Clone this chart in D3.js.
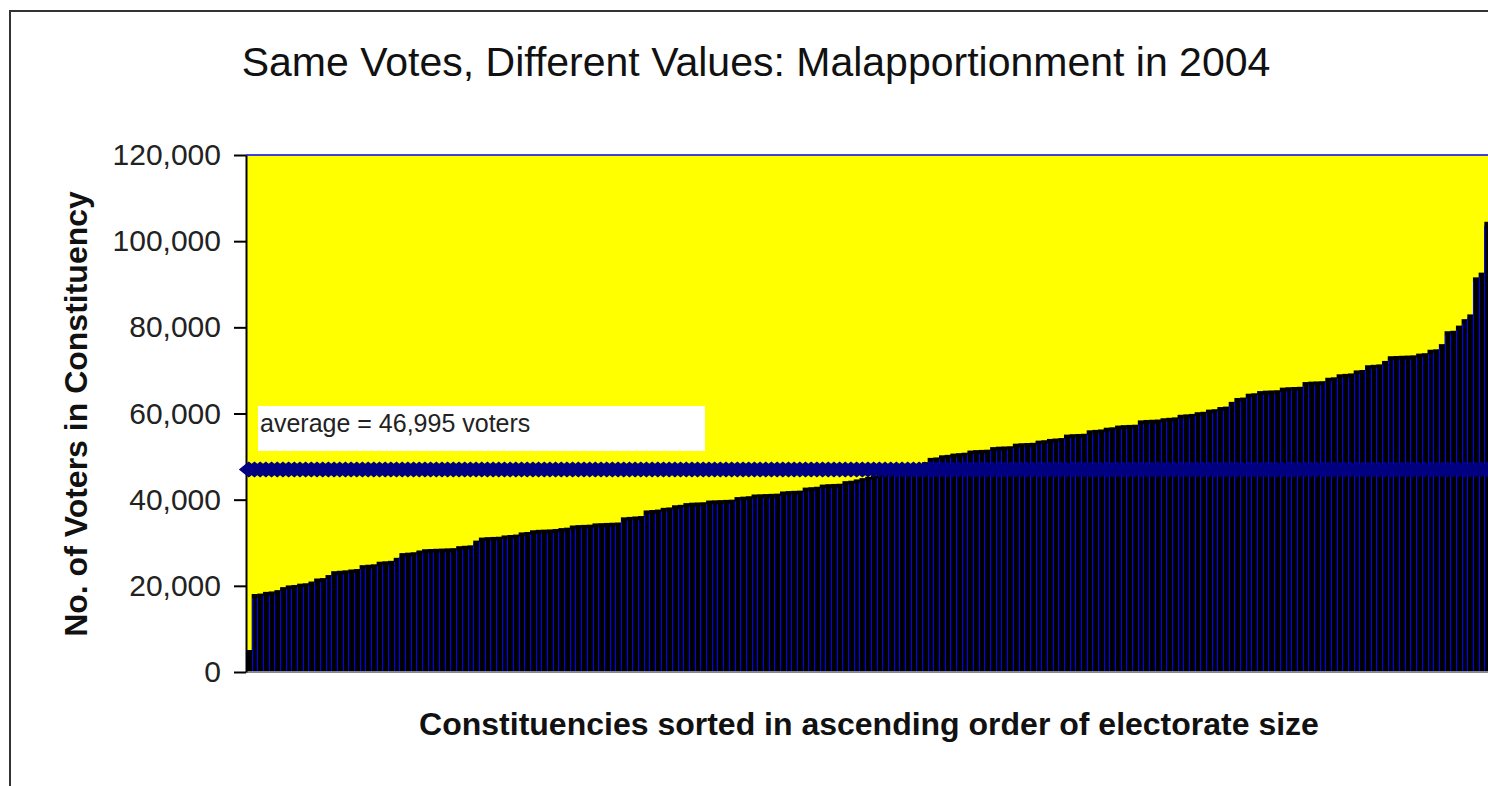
<!DOCTYPE html>
<html>
<head>
<meta charset="utf-8">
<script src="https://cdn.jsdelivr.net/npm/d3@7"></script>
<style>
body { margin: 0; background: #fff; overflow: hidden; }
svg { display: block; font-family: Arial, "Liberation Sans", sans-serif; }
</style>
</head>
<body>
<div id="chart"></div>
<script>
// 文本
const chartTitle = 'Same Votes, Different Values: Malapportionment in 2004';
const yAxisTitle = 'No. of Voters in Constituency';
const xAxisTitle = 'Constituencies sorted in ascending order of electorate size';
const averageLabel = 'average = 46,995 voters';

// 数据
const yTicks = [0, 20000, 40000, 60000, 80000, 100000, 120000];
const averageVoters = 46995;
const voters = [
    5100, 18100, 18200, 18600, 18700, 19000, 19700, 20100, 20200, 20500,
    20600, 21000, 21700, 21800, 22500, 23400, 23500, 23600, 23800, 23900,
    24800, 24900, 25000, 25600, 25700, 25800, 26500, 27600, 27700, 27800,
    28200, 28500, 28550, 28600, 28650, 28700, 28750, 29200, 29300, 29400,
    30500, 31200, 31300, 31350, 31400, 31700, 31800, 31900, 32400, 32500,
    32900, 33000, 33050, 33100, 33200, 33400, 33500, 34000, 34100, 34150,
    34200, 34500, 34550, 34600, 34650, 34700, 35900, 36000, 36100, 36200,
    37500, 37600, 37700, 38100, 38200, 38700, 38800, 39200, 39300, 39350,
    39400, 39800, 39850, 39900, 39950, 40000, 40600, 40700, 40800, 41200,
    41250, 41300, 41350, 41400, 41900, 42000, 42050, 42100, 42800, 42900,
    43000, 43500, 43600, 43650, 43700, 44300, 44400, 44700, 45000, 45300,
    45600, 45900, 46200, 46500, 46800, 47100, 47400, 47800, 48200, 48700,
    49700, 49800, 50300, 50400, 50700, 50800, 50900, 51400, 51500, 51550,
    51600, 52200, 52300, 52350, 52400, 53000, 53100, 53150, 53200, 53700,
    53800, 54100, 54200, 54300, 55100, 55200, 55250, 55300, 56100, 56200,
    56300, 56700, 56800, 57200, 57300, 57350, 57400, 58400, 58500, 58550,
    58600, 58900, 59000, 59100, 59700, 59800, 59900, 60300, 60400, 60900,
    61000, 61500, 61600, 62700, 63600, 63700, 64600, 64700, 65200, 65300,
    65350, 65400, 66000, 66100, 66150, 66200, 67300, 67400, 67450, 67500,
    68300, 68400, 69100, 69200, 69300, 70000, 70100, 71200, 71300, 71400,
    72200, 73300, 73350, 73400, 73450, 73500, 73900, 74000, 74800, 74900,
    76100, 79100, 79200, 80400, 81900, 83000, 91600, 92700, 104500
];
const seats = voters.map((d, i) => i + 1);

const width = 1488, height = 786;
const plot = { left: 246, right: 1490, top: 155, bottom: 672 };

const svg = d3.select('#chart').append('svg')
    .attr('width', width)
    .attr('height', height);

// 外框
svg.append('rect')
    .attr('x', 10).attr('y', 11)
    .attr('width', 1520).attr('height', 820)
    .attr('fill', 'none')
    .attr('stroke', '#333')
    .attr('stroke-width', 2);

const x = d3.scaleBand().domain(seats).range([plot.left, plot.right]).padding(0);
const y = d3.scaleLinear().domain([0, 120000]).range([plot.bottom, plot.top]);

// 绘图区背景
svg.append('rect')
    .attr('x', plot.left).attr('y', plot.top)
    .attr('width', plot.right - plot.left).attr('height', plot.bottom - plot.top)
    .attr('fill', '#ffff00');
svg.append('line')
    .attr('x1', plot.left).attr('x2', plot.right + 10)
    .attr('y1', plot.top).attr('y2', plot.top)
    .attr('stroke', '#0000ff').attr('stroke-width', 1.5);

// 柱子
const bars = svg.append('g');
bars.selectAll('rect')
    .data(seats)
    .enter().append('rect')
    .attr('x', d => x(d))
    .attr('y', (d, i) => y(voters[i]))
    .attr('width', x.bandwidth() + 0.5)
    .attr('height', (d, i) => y(0) - y(voters[i]))
    .attr('fill', '#000');
bars.selectAll('line')
    .data(seats.slice(1))
    .enter().append('line')
    .attr('x1', d => Math.round(x(d)) + 0.5)
    .attr('x2', d => Math.round(x(d)) + 0.5)
    .attr('y1', d => y(voters[d - 1]) + 4)
    .attr('y2', y(0))
    .attr('stroke', '#0000ff')
    .attr('stroke-width', 1);

// X轴线
svg.append('line')
    .attr('x1', plot.left).attr('x2', width)
    .attr('y1', plot.bottom).attr('y2', plot.bottom)
    .attr('stroke', '#888').attr('stroke-width', 2);

// Y轴
const yAxis = svg.append('g')
    .attr('transform', `translate(${plot.left},0)`)
    .call(d3.axisLeft(y).tickValues(yTicks).tickSize(12).tickSizeOuter(0)
        .tickPadding(13).tickFormat(d3.format(',')));
yAxis.select('.domain').attr('stroke', '#000').attr('stroke-width', 2);
yAxis.selectAll('.tick line').attr('stroke', '#000').attr('stroke-width', 2);
yAxis.selectAll('.tick text')
    .attr('fill', '#222')
    .style('font-size', '30px')
    .style('font-family', 'Arial, "Liberation Sans", sans-serif');

// 平均线
const avgLine = d3.line()
    .x(d => x(d) + x.bandwidth() / 2)
    .y(() => y(averageVoters));
svg.append('path')
    .datum(seats)
    .attr('d', avgLine)
    .attr('fill', 'none')
    .attr('stroke', '#000080')
    .attr('stroke-width', 4);
svg.append('g').selectAll('path')
    .data(seats)
    .enter().append('path')
    .attr('transform', d => `translate(${x(d) + x.bandwidth() / 2},${y(averageVoters)})`)
    .attr('d', 'M0,-8L10,0L0,8L-10,0Z')
    .attr('fill', '#000080');

// 平均值标签
svg.append('rect')
    .attr('x', 258).attr('y', 406)
    .attr('width', 447).attr('height', 45)
    .attr('fill', '#fff');
svg.append('text')
    .attr('x', 260).attr('y', 432)
    .attr('fill', '#222')
    .style('font-size', '25px')
    .text(averageLabel);

// 标题
svg.append('text')
    .attr('x', 756).attr('y', 76)
    .attr('text-anchor', 'middle')
    .attr('fill', '#111')
    .style('font-size', '41px')
    .text(chartTitle);

svg.append('text')
    .attr('transform', 'translate(87,414) rotate(-90)')
    .attr('text-anchor', 'middle')
    .attr('fill', '#111')
    .style('font-size', '32px')
    .style('font-weight', 'bold')
    .text(yAxisTitle);

svg.append('text')
    .attr('x', 869).attr('y', 735)
    .attr('text-anchor', 'middle')
    .attr('fill', '#111')
    .style('font-size', '32px')
    .style('font-weight', 'bold')
    .text(xAxisTitle);
</script>
</body>
</html>
